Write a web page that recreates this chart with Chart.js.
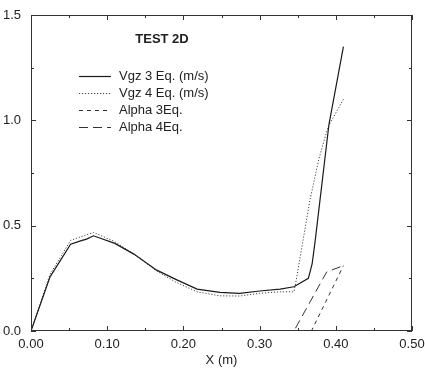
<!DOCTYPE html>
<html>
<head>
<meta charset="utf-8">
<script src="https://cdn.jsdelivr.net/npm/chart.js@4/dist/chart.umd.min.js"></script>
<style>
  html, body { margin: 0; padding: 0; background: #fff; }
  canvas { display: block; }
</style>
</head>
<body>
<canvas id="plot" width="425" height="373"></canvas>
<script>
/* ================= DATA ================= */
const chartTitle = "TEST 2D";
const xTitle = "X (m)";
const xTicks = [0, 0.1, 0.2, 0.3, 0.4, 0.5];
const yTicks = [0, 0.5, 1.0, 1.5];

const vgz3X = [0, 0.025, 0.052, 0.065, 0.073, 0.082, 0.11, 0.135, 0.165, 0.19, 0.218, 0.248, 0.274, 0.30, 0.327, 0.345, 0.364, 0.369, 0.373, 0.391, 0.41];
const vgz3Y = [0, 0.257, 0.412, 0.428, 0.436, 0.452, 0.416, 0.365, 0.289, 0.245, 0.199, 0.183, 0.179, 0.19, 0.199, 0.21, 0.25, 0.32, 0.43, 0.98, 1.35];

const vgz4X = [0, 0.025, 0.052, 0.065, 0.082, 0.11, 0.135, 0.165, 0.19, 0.218, 0.248, 0.274, 0.30, 0.327, 0.345, 0.348, 0.357, 0.366, 0.378, 0.39, 0.41];
const vgz4Y = [0, 0.27, 0.43, 0.447, 0.468, 0.424, 0.365, 0.285, 0.232, 0.186, 0.167, 0.166, 0.179, 0.186, 0.186, 0.24, 0.43, 0.62, 0.82, 0.97, 1.10];

const alpha3X = [0, 0.368, 0.41];
const alpha3Y = [0, 0, 0.31];

const alpha4X = [0, 0.345, 0.388, 0.395, 0.41];
const alpha4Y = [0, 0, 0.28, 0.29, 0.31];

const seriesLabels = ["Vgz 3 Eq. (m/s)", "Vgz 4 Eq. (m/s)", "Alpha 3Eq.", "Alpha 4Eq."];

/* ================= HELPERS ================= */
const FONT = "'Liberation Sans', Arial, Helvetica, sans-serif";
const TEXT = "#222";

function pts(xs, ys) {
  return xs.map((x, i) => ({ x: x, y: ys[i] }));
}

function line(label, xs, ys, color, width, dash) {
  return {
    label: label,
    data: pts(xs, ys),
    showLine: true,
    borderColor: color,
    borderWidth: width,
    borderDash: dash,
    pointRadius: 0,
    tension: 0,
    fill: false
  };
}

// no label overhang: the plot box is set by layout padding only
function noOverhang(s) {
  s.paddingLeft = 0; s.paddingRight = 0;
  s.paddingTop = 0; s.paddingBottom = 0;
}

/* ================= FRAME, TICKS, LEGEND ================= */
const framePlugin = {
  id: "frame",
  afterDatasetsDraw(chart) {
    const { ctx, chartArea: a, scales } = chart;
    const xs = scales.x, ys = scales.y;
    ctx.save();
    ctx.strokeStyle = "#333";
    ctx.lineWidth = 1;
    ctx.setLineDash([]);
    ctx.strokeRect(a.left + 0.5, a.top + 0.5, a.right - a.left - 1, a.bottom - a.top - 1);

    // inward ticks, major + minor, on all four sides
    ctx.beginPath();
    for (let i = 0; i < xTicks.length; i++) {
      const px = Math.round(xs.getPixelForValue(xTicks[i])) + 0.5;
      ctx.moveTo(px, a.bottom); ctx.lineTo(px, a.bottom - 5);
      ctx.moveTo(px, a.top); ctx.lineTo(px, a.top + 5);
      if (i < xTicks.length - 1) {
        const mx = Math.round(xs.getPixelForValue((xTicks[i] + xTicks[i + 1]) / 2)) + 0.5;
        ctx.moveTo(mx, a.bottom); ctx.lineTo(mx, a.bottom - 3);
        ctx.moveTo(mx, a.top); ctx.lineTo(mx, a.top + 3);
      }
    }
    for (let i = 0; i < yTicks.length; i++) {
      const py = Math.round(ys.getPixelForValue(yTicks[i])) + 0.5;
      ctx.moveTo(a.left, py); ctx.lineTo(a.left + 5, py);
      ctx.moveTo(a.right, py); ctx.lineTo(a.right - 5, py);
      if (i < yTicks.length - 1) {
        const my = Math.round(ys.getPixelForValue((yTicks[i] + yTicks[i + 1]) / 2)) + 0.5;
        ctx.moveTo(a.left, my); ctx.lineTo(a.left + 3, my);
        ctx.moveTo(a.right, my); ctx.lineTo(a.right - 3, my);
      }
    }
    ctx.stroke();

    // title inside plot
    ctx.fillStyle = TEXT;
    ctx.font = "bold 13px " + FONT;
    ctx.textAlign = "center";
    ctx.textBaseline = "middle";
    ctx.fillText(chartTitle, 162, 39);

    // legend inside plot
    ctx.font = "13px " + FONT;
    ctx.textAlign = "left";
    chart.data.datasets.forEach((ds, i) => {
      const y = 76 + i * 17 + 0.5;
      ctx.strokeStyle = ds.borderColor;
      ctx.lineWidth = ds.borderWidth;
      ctx.setLineDash(ds.borderDash || []);
      ctx.beginPath();
      ctx.moveTo(79, y);
      ctx.lineTo(111, y);
      ctx.stroke();
      ctx.fillText(ds.label, 119, y);
    });
    ctx.restore();
  }
};

/* ================= CHART ================= */
const ctx = document.getElementById("plot").getContext("2d");

new Chart(ctx, {
  type: "scatter",
  data: {
    datasets: [
      line(seriesLabels[0], vgz3X, vgz3Y, "#1a1a1a", 1.2, []),
      line(seriesLabels[1], vgz4X, vgz4Y, "#444", 1, [1.2, 1.8]),
      line(seriesLabels[2], alpha3X, alpha3Y, "#333", 1, [4, 4]),
      line(seriesLabels[3], alpha4X, alpha4Y, "#333", 1, [9, 5])
    ]
  },
  options: {
    responsive: false,
    animation: false,
    layout: { padding: { top: 15, right: 13, left: 0, bottom: 0 } },
    plugins: {
      legend: { display: false },
      tooltip: { enabled: false }
    },
    scales: {
      x: {
        type: "linear",
        min: 0,
        max: 0.5,
        afterBuildTicks: (s) => { s.ticks = xTicks.map(v => ({ value: v })); },
        afterFit: (s) => { s.height = 42; noOverhang(s); },
        grid: { display: false, drawTicks: false },
        border: { display: false },
        ticks: {
          padding: 6,
          color: TEXT,
          font: { family: FONT, size: 13 },
          maxRotation: 0,
          callback: (v) => Number(v).toFixed(2)
        },
        title: {
          display: true,
          text: xTitle,
          color: TEXT,
          font: { family: FONT, size: 13 },
          padding: { top: 1, bottom: 5 }
        }
      },
      y: {
        type: "linear",
        min: 0,
        max: 1.5,
        afterBuildTicks: (s) => { s.ticks = yTicks.map(v => ({ value: v })); },
        afterFit: (s) => { s.width = 31; noOverhang(s); },
        grid: { display: false, drawTicks: false },
        border: { display: false },
        ticks: {
          padding: 10,
          color: TEXT,
          font: { family: FONT, size: 13 },
          callback: (v) => Number(v).toFixed(1)
        }
      }
    }
  },
  plugins: [framePlugin]
});
</script>
</body>
</html>
